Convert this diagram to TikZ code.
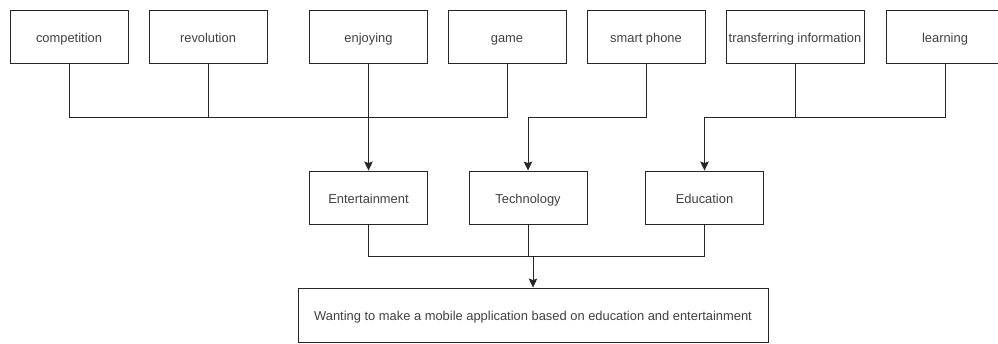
\documentclass[tikz,border=0pt]{standalone}
\usepackage{fontspec}
\setmainfont{Liberation Sans}
\usetikzlibrary{arrows.meta}

\tikzset{
  box/.style={draw=black!85, line width=0.9pt, minimum width=118pt, minimum height=53pt,
              inner sep=0pt, text=black!75, font=\fontsize{12.9}{15}\selectfont,
              text height=2.1ex, text depth=0ex},
  wire/.style={draw=black!85, line width=0.9pt},
  arr/.style={wire, -{Stealth[length=9pt,width=8.5pt,inset=1.5pt]}}
}

\begin{document}
\begin{tikzpicture}[x=1pt, y=-1pt]
			%%%%% START %%%%%
			\useasboundingbox (0, 0) rectangle (998, 344);
			\clip (0, 0) rectangle (998, 344);
			
			% top row
			\node[box] (comp) at (69, 36.5) {competition};
			\node[box] (rev) at (208, 36.5) {revolution};
			\node[box] (enj) at (368.5, 36.5) {enjoying};
			\node[box] (game) at (507, 36.5) {game};
			\node[box] (phone) at (646, 36.5) {smart phone};
			\node[box, minimum width=138pt] (transfer) at (795, 36.5) {transferring information};
			\node[box] (learn) at (945, 36.5) {learning};
			
			% middle row
			\node[box] (ent) at (368.5, 197.5) {Entertainment};
			\node[box] (tech) at (528, 197.5) {Technology};
			\node[box] (edu) at (704.5, 197.5) {Education};
			
			% bottom
			\node[box, minimum width=470pt, minimum height=54pt] (goal) at (533, 315) {Wanting to make a mobile application based on education and entertainment};
			
			\coordinate (busA) at (0, 117);
			\coordinate (busB) at (0, 256);
			
			\draw[wire] (comp.south) |- (busA -| game.south) -- (game.south);
			\draw[wire] (rev.south) -- (rev.south |- busA);
			\draw[arr] (enj.south) -- (ent.north);
			
			\draw[arr] (phone.south) |- (busA -| tech.north) -- (tech.north);
			
			\draw[wire] (transfer.south) -- (transfer.south |- busA);
			\draw[arr] (learn.south) |- (busA -| edu.north) -- (edu.north);
			
			\draw[wire] (ent.south) |- (busB -| edu.south) -- (edu.south);
			\draw[wire] (tech.south) -- (tech.south |- busB);
			\draw[arr] (goal.north |- busB) -- (goal.north);
			
			%%%%% END %%%%%
		\end{tikzpicture}
\end{document}
